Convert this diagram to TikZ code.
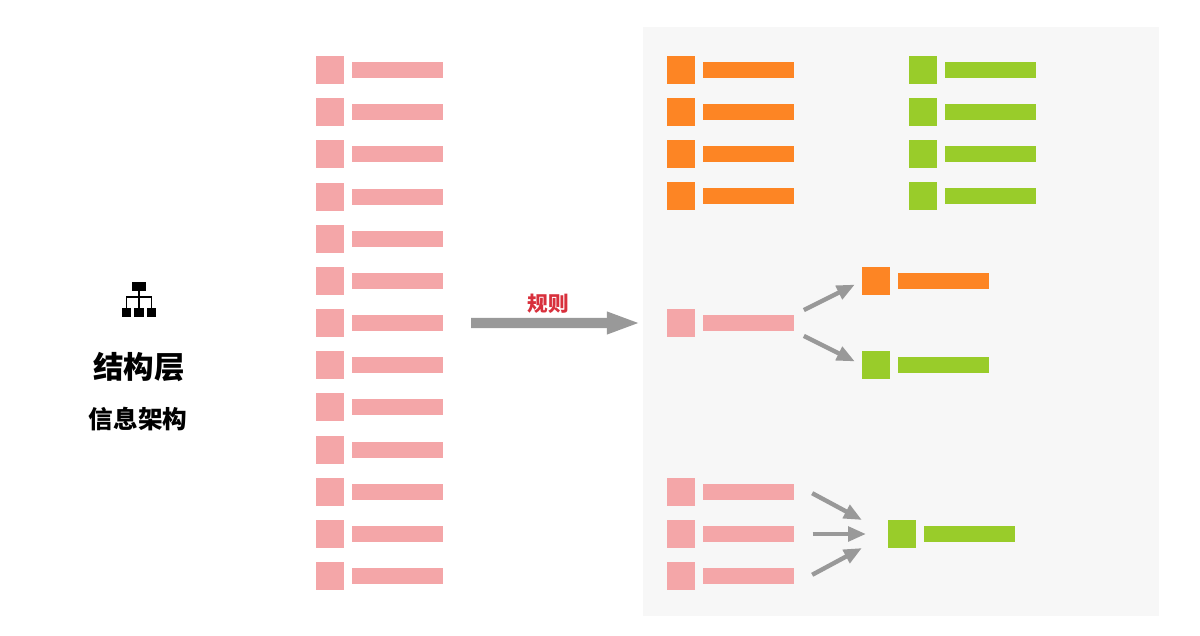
\documentclass[tikz,border=0pt]{standalone}
\usepackage{fontspec}
\newfontfamily\cjk{Noto Sans CJK SC}
\usetikzlibrary{arrows.meta,positioning}
\definecolor{panelgray}{HTML}{F7F7F7}
\definecolor{pinkitem}{HTML}{F4A6A8}
\definecolor{orangeitem}{HTML}{FD8524}
\definecolor{greenitem}{HTML}{99CC2A}
\definecolor{arrowgray}{HTML}{999999}
\definecolor{rulered}{HTML}{D8303C}
\tikzset{
  itemsq/.style={fill=#1,minimum size=0.7cm,inner sep=0,anchor=west},
  itembar/.style={fill=#1,minimum width=2.275cm,minimum height=0.4cm,inner sep=0},
  iconbox/.style={fill=black,inner sep=0},
  iconline/.style={line width=0.04cm},
  smallarrow/.style={draw=arrowgray,line width=0.11cm,-{Triangle[length=0.45cm,width=0.36cm]}},
  bigarrow/.style={draw=arrowgray,line width=0.26cm,-{Triangle[length=0.85cm,width=0.5cm]}}
}
% one list entry: name, x, y, colour
\newcommand{\rowitem}[4]{
  \node[itemsq=#4] (#1) at ({#2},{#3}) {};
  \node[itembar=#4,right=0.185cm of #1] (#1b) {};
}
\begin{document}
\begin{tikzpicture}[x=0.025cm,y=-0.025cm]
  \useasboundingbox (0,0) rectangle (1200,636);
  \fill[panelgray] (643,27) rectangle (1159,616);

  % icon and titles
  \node[iconbox,minimum width=0.35cm,minimum height=0.23cm] (icontop) at (139,286.5) {};
  \node[iconbox,minimum size=0.23cm] (iconl) at (126.5,312.5) {};
  \node[iconbox,minimum size=0.23cm] (iconm) at (139,312.5) {};
  \node[iconbox,minimum size=0.23cm] (iconr) at (151.5,312.5) {};
  \coordinate (iconjoin) at (139,297);
  \draw[iconline] (icontop) -- (iconm);
  \draw[iconline] (iconjoin) -| (iconl);
  \draw[iconline] (iconjoin) -| (iconr);
  \node (title) at (139,367) {\cjk\bfseries\fontsize{21.7pt}{26pt}\selectfont 结构层};
  \node (subtitle) at (138,419) {\cjk\bfseries\fontsize{17.5pt}{21pt}\selectfont 信息架构};

  % long list on the left
  \foreach \i in {1,...,13} {
    \rowitem{list\i}{315.5}{70+42.17*(\i-1)}{pinkitem}
  }

  % grouped by colour
  \foreach \i in {1,...,4} {
    \rowitem{orange\i}{667}{70+42*(\i-1)}{orangeitem}
    \rowitem{green\i}{908.5}{70+42*(\i-1)}{greenitem}
  }

  % one item split in two
  \rowitem{split}{667}{323}{pinkitem}
  \rowitem{splito}{862}{281}{orangeitem}
  \rowitem{splitg}{862}{365}{greenitem}
  \draw[smallarrow,shorten <=0.26cm,shorten >=0.2cm] (splitb.north east) -- (splito.west);
  \draw[smallarrow,shorten <=0.26cm,shorten >=0.2cm] (splitb.south east) -- (splitg.west);

  % three items merged in one
  \foreach \i in {1,2,3} {
    \rowitem{merge\i}{667}{492+42*(\i-1)}{pinkitem}
  }
  \rowitem{merged}{888}{534}{greenitem}
  \draw[smallarrow,shorten <=0.5cm,shorten >=0.74cm] (merge1b.north east) -- (merged.west);
  \draw[smallarrow,shorten <=0.45cm,shorten >=0.55cm] (merge2b.east) -- (merged.west);
  \draw[smallarrow,shorten <=0.5cm,shorten >=0.74cm] (merge3b.south east) -- (merged.west);

  % rule arrow
  \draw[bigarrow,shorten <=0.7cm,shorten >=0.65cm] (list7b) -- (split) node[midway,above=0.11cm,xshift=-0.175cm,text=rulered,inner sep=0] (rulelabel) {\cjk\bfseries\fontsize{14.7pt}{18pt}\selectfont 规则};
\end{tikzpicture}
\end{document}
